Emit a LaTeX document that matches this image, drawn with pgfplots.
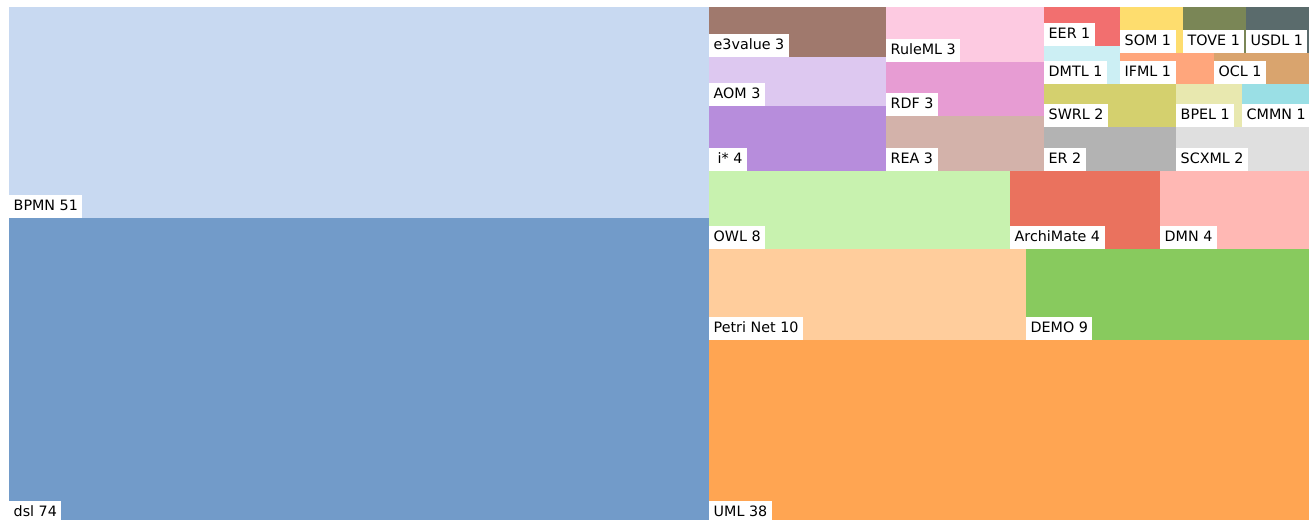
\documentclass[border=0pt]{standalone}
\usepackage{pgfplots}
\pgfplotsset{compat=1.18}
\usepackage{fontspec}
\setmainfont{DejaVu Sans}

% treemap tile colours
\definecolor{cBPMN}{HTML}{C8D9F1}
\definecolor{cdsl}{HTML}{729BC9}
\definecolor{cUML}{HTML}{FFA552}
\definecolor{cPetri}{HTML}{FFCD9C}
\definecolor{cDEMO}{HTML}{88CA5E}
\definecolor{cOWL}{HTML}{C8F2AF}
\definecolor{cArchi}{HTML}{EA725E}
\definecolor{cDMN}{HTML}{FFB8B4}
\definecolor{ce3v}{HTML}{A0796D}
\definecolor{cAOM}{HTML}{DDC8F0}
\definecolor{cistar}{HTML}{B78DDC}
\definecolor{cRuleML}{HTML}{FDCAE1}
\definecolor{cRDF}{HTML}{E79CD3}
\definecolor{cREA}{HTML}{D3B2AA}
\definecolor{cEER}{HTML}{F26F6F}
\definecolor{cDMTL}{HTML}{CCEFF4}
\definecolor{cSOM}{HTML}{FEDD6E}
\definecolor{cTOVE}{HTML}{7A8656}
\definecolor{cUSDL}{HTML}{5A6B6C}
\definecolor{cIFML}{HTML}{FFA67C}
\definecolor{cOCL}{HTML}{D9A46E}
\definecolor{cSWRL}{HTML}{D4D06E}
\definecolor{cBPEL}{HTML}{E8E8AF}
\definecolor{cCMMN}{HTML}{9ADFE5}
\definecolor{cER}{HTML}{B3B3B3}
\definecolor{cSCXML}{HTML}{DFDFDF}

\tikzset{lbl/.style={anchor=south west, fill=white, inner xsep=4.5bp, inner ysep=0pt,
  text height=15.5bp, text depth=7.5bp, font=\fontsize{14.3bp}{16bp}\selectfont}}
% tile: colour, x0, y0, x1, y1, label
\newcommand{\tile}[6]{%
  \addplot[fill=#1, draw=none] coordinates {(#2,#3)(#4,#3)(#4,#5)(#2,#5)};
  \node[lbl] at (axis cs:#2,#5) {#6};}

\begin{document}
\begin{tikzpicture}
\begin{axis}[
  width=1311bp, height=520bp, scale only axis,
  xmin=0, xmax=1311, ymin=0, ymax=520, y dir=reverse,
  hide axis, clip=true,
]
\tile{cBPMN}{9}{7}{709}{218}{BPMN 51}
\tile{cdsl}{9}{218}{709}{524}{dsl 74}
\tile{cUML}{709}{340}{1309}{524}{UML 38}
\tile{cPetri}{709}{249}{1026}{340}{Petri Net 10}
\tile{cDEMO}{1026}{249}{1309}{340}{DEMO 9}
\tile{cOWL}{709}{171}{1010}{249}{OWL 8}
\tile{cArchi}{1010}{171}{1160}{249}{ArchiMate 4}
\tile{cDMN}{1160}{171}{1309}{249}{DMN 4}
\tile{ce3v}{709}{7}{886}{57}{e3value 3}
\tile{cAOM}{709}{57}{886}{106}{AOM 3}
\tile{cistar}{709}{106}{886}{171}{\hspace{4bp}i* 4}
\tile{cRuleML}{886}{7}{1044}{62}{RuleML 3}
\tile{cRDF}{886}{62}{1044}{116}{RDF 3}
\tile{cREA}{886}{116}{1044}{171}{REA 3}
\tile{cEER}{1044}{7}{1120}{46}{EER 1}
\tile{cDMTL}{1044}{46}{1120}{84}{DMTL 1}
\tile{cSOM}{1120}{7}{1183}{53}{SOM 1}
\tile{cTOVE}{1183}{7}{1246}{53}{TOVE 1}
\tile{cUSDL}{1246}{7}{1309}{53}{USDL 1}
\tile{cIFML}{1120}{53}{1214}{84}{IFML 1}
\tile{cOCL}{1214}{53}{1309}{84}{OCL 1}
\tile{cSWRL}{1044}{84}{1176}{127}{SWRL 2}
\tile{cBPEL}{1176}{84}{1242}{127}{BPEL 1}
\tile{cCMMN}{1242}{84}{1309}{127}{CMMN 1}
\tile{cER}{1044}{127}{1176}{171}{ER 2}
\tile{cSCXML}{1176}{127}{1309}{171}{SCXML 2}
\end{axis}
\pgfresetboundingbox
\useasboundingbox (0,0) rectangle (1311bp,520bp);
\end{tikzpicture}
\end{document}
